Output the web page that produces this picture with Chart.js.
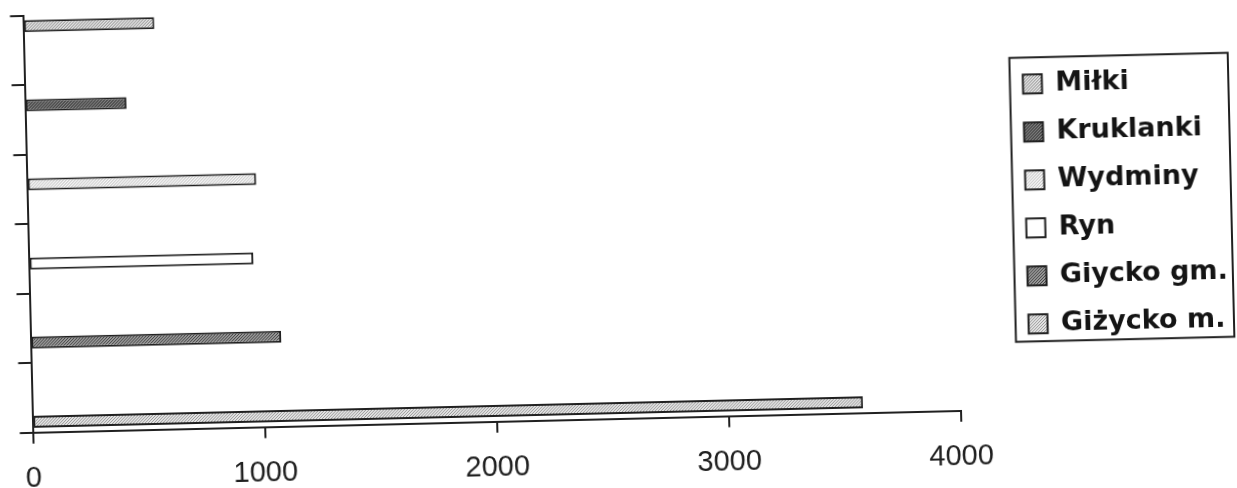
<!DOCTYPE html>
<html>
<head>
<meta charset="utf-8">
<script src="https://cdn.jsdelivr.net/npm/chart.js@4"></script>
<style>
    html, body { margin: 0; padding: 0; background: #ffffff; overflow: hidden; }
    #wrap {
        width: 1237px;
        height: 488px;
        transform: rotate(-1.35deg);
        transform-origin: 618.5px 244px;
    }
</style>
</head>
<body>
<div id="wrap"><canvas id="myChart" width="1237" height="488"></canvas></div>
<script>
// Gminy (one row per gmina, top to bottom)
const gminy = ['Miłki', 'Kruklanki', 'Wydminy', 'Ryn', 'Giycko gm.', 'Giżycko m.'];
// Values
const wartosci = [565, 437, 988, 968, 1080, 3580];
// X axis ticks
const osX = [0, 1000, 2000, 3000, 4000];

// Fill style per series: [background, dot colour]
const wypelnienia = [
    ['#e2e2e2', '#8c8c8c'],
    ['#7e7e7e', '#262626'],
    ['#f6f6f6', '#bdbdbd'],
    ['#ffffff', '#ffffff'],
    ['#9a9a9a', '#404040'],
    ['#e4e4e4', '#999999']
];

const ink = '#202020';

// Small stipple pattern, like the printed hatching
function dotPattern(bg, dot) {
    const c = document.createElement('canvas');
    c.width = 3;
    c.height = 3;
    const g = c.getContext('2d');
    g.fillStyle = bg;
    g.fillRect(0, 0, 3, 3);
    g.fillStyle = dot;
    g.fillRect(0, 0, 1, 1);
    g.fillRect(2, 1, 1, 1);
    g.fillRect(1, 2, 1, 1);
    return g.createPattern(c, 'repeat');
}

// Each gmina is its own series, only filled in its own row
const datasets = gminy.map((name, i) => ({
    label: name,
    data: gminy.map((_, j) => (j === i ? wartosci[i] : null)),
    backgroundColor: dotPattern(wypelnienia[i][0], wypelnienia[i][1]),
    borderColor: ink,
    borderWidth: 2,
    borderSkipped: false
}));

// Frame around the legend
const legendFrame = {
    id: 'legendFrame',
    afterDraw(chart) {
        const hb = chart.legend.legendHitBoxes;
        if (!hb || !hb.length) return;
        const last = hb[hb.length - 1];
        const left = hb[0].left - 13;
        const top = hb[0].top - 13;
        const right = Math.max(...hb.map((b) => b.left + b.width)) + 5;
        const bottom = last.top + last.height + 4;
        const ctx = chart.ctx;
        ctx.save();
        ctx.strokeStyle = ink;
        ctx.lineWidth = 2;
        ctx.strokeRect(left, top, right - left, bottom - top);
        ctx.restore();
    }
};

const ctx = document.getElementById('myChart').getContext('2d');
const myChart = new Chart(ctx, {
    type: 'bar',
    data: {
        labels: gminy,
        datasets: datasets
    },
    options: {
        indexAxis: 'y',
        responsive: false,
        animation: false,
        categoryPercentage: 0.828,
        barPercentage: 1.25,
        layout: {
            padding: { left: 15.5, right: 0, top: 1.5, bottom: 0 }
        },
        scales: {
            x: {
                type: 'linear',
                min: osX[0],
                max: osX[osX.length - 1],
                afterBuildTicks: (scale) => {
                    scale.ticks = osX.map((v) => ({ value: v }));
                },
                // labels sit low, close to the bottom edge
                afterFit: (scale) => {
                    scale.height = 69.3;
                },
                ticks: {
                    color: ink,
                    padding: 18,
                    maxRotation: 0,
                    callback: (v) => String(v),
                    font: { family: 'Liberation Sans, Arial', size: 29 }
                },
                grid: {
                    drawOnChartArea: false,
                    drawTicks: true,
                    tickLength: 11,
                    color: ink,
                    lineWidth: 2
                },
                border: { color: ink, width: 2 }
            },
            y: {
                ticks: { display: false },
                grid: {
                    drawOnChartArea: false,
                    drawTicks: true,
                    tickLength: 13,
                    color: ink,
                    lineWidth: 2
                },
                border: { color: ink, width: 2 }
            },
            // empty space between the plot and the legend
            gap: {
                type: 'linear',
                position: 'right',
                grid: { display: false },
                ticks: { display: false },
                border: { display: false },
                afterFit: (scale) => {
                    scale.width = 49;
                }
            }
        },
        plugins: {
            legend: {
                position: 'right',
                align: 'center',
                fullSize: false,
                maxWidth: 260,
                title: { display: true, text: '', padding: 0, font: { size: 6 } },
                labels: {
                    color: '#141414',
                    boxWidth: 19,
                    boxHeight: 19,
                    padding: 21,
                    font: { family: 'DejaVu Sans', weight: 'bold', size: 27 }
                }
            },
            tooltip: { enabled: false }
        }
    },
    plugins: [legendFrame]
});
</script>
</body>
</html>
